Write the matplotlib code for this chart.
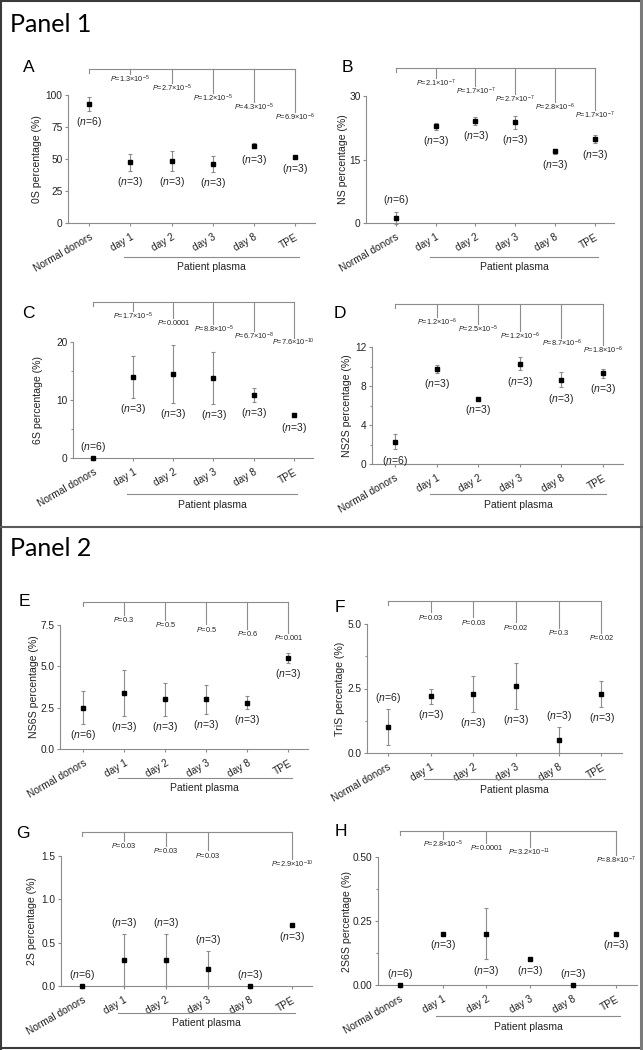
import matplotlib
matplotlib.use('Agg')
import matplotlib.pyplot as plt
from matplotlib.lines import Line2D
from matplotlib.ticker import AutoMinorLocator, FormatStrFormatter
import matplotlib.transforms as mtransforms

plt.rcParams['font.family'] = ['Liberation Sans', 'DejaVu Sans']
plt.rcParams['mathtext.fontset'] = 'custom'
plt.rcParams['mathtext.rm'] = 'Liberation Sans'
plt.rcParams['mathtext.it'] = 'Liberation Sans:italic'

# groups and sample sizes
groups = ["Normal donors", "day 1", "day 2", "day 3", "day 8", "TPE"]
n_counts = [6, 3, 3, 3, 3, 3]

# Panel 1
os_mean = [93, 47.3, 48.6, 46, 60.3, 51.4]
os_err = [5.5, 6.4, 8, 6.2, 2, 0.8]
os_p = ["1.3e-5", "2.7e-5", "1.2e-5", "4.3e-5", "6.9e-6"]

ns_mean = [1.2, 22.8, 24.1, 23.8, 16.9, 19.8]
ns_err = [1.5, 0.8, 1.0, 1.5, 0.5, 1.0]
ns_p = ["2.1e-7", "1.7e-7", "2.7e-7", "2.8e-6", "1.7e-7"]

s6_mean = [0, 14.0, 14.5, 13.8, 10.9, 7.4]
s6_err = [0, 3.6, 5.0, 4.5, 1.2, 0.3]
s6_p = ["1.7e-5", "0.0001", "8.8e-5", "6.7e-8", "7.6e-10"]

ns2s_mean = [2.3, 9.75, 6.7, 10.3, 8.65, 9.3]
ns2s_err = [0.8, 0.4, 0, 0.7, 0.8, 0.45]
ns2s_p = ["1.2e-6", "2.5e-5", "1.2e-6", "8.7e-6", "1.8e-6"]

# Panel 2
ns6s_mean = [2.5, 3.4, 3.0, 3.0, 2.8, 5.5]
ns6s_err = [1.0, 1.4, 1.0, 0.9, 0.4, 0.3]
ns6s_p = ["0.3", "0.5", "0.5", "0.6", "0.001"]

tris_mean = [1.0, 2.2, 2.3, 2.6, 0.5, 2.3]
tris_err = [0.7, 0.3, 0.7, 0.9, 0.5, 0.5]
tris_p = ["0.03", "0.03", "0.02", "0.3", "0.02"]

s2_mean = [0, 0.3, 0.3, 0.2, 0, 0.7]
s2_err = [0, 0.3, 0.3, 0.2, 0, 0]
s2_p = ["0.03", "0.03", "0.03", None, "2.9e-10"]

s2s6_mean = [0, 0.2, 0.2, 0.1, 0, 0.2]
s2s6_err = [0, 0, 0.1, 0, 0, 0]
s2s6_p = ["2.8e-5", "0.0001", "3.2e-11", None, "8.8e-7"]

W, H = 643, 1050
GRAY = '#8c8c8c'

panels = [
    dict(letter='A', ylabel='0S percentage (%)', mean=os_mean, err=os_err, p=os_p,
         yticks=[0, 25, 50, 75, 100], fmt='%d', minor=False,
         rect=(68, 315, 223, 95), xleft=-0.51, bracket=69, pbase=10, pstep=9.5,
         side='bbbbbb', ylab_dx=-31, letter_xy=(29, 67), pp=(34, 44)),
    dict(letter='B', ylabel='NS percentage (%)', mean=ns_mean, err=ns_err, p=ns_p,
         yticks=[0, 15, 30], fmt='%d', minor=False,
         rect=(366, 614, 223, 96), xleft=-0.75, bracket=68, pbase=15, pstep=8,
         side='abbbbb', ylab_dx=-23, letter_xy=(347, 68), pp=(34, 44)),
    dict(letter='C', ylabel='6S percentage (%)', mean=s6_mean, err=s6_err, p=s6_p,
         yticks=[0, 10, 20], fmt='%d', minor=True,
         rect=(73, 313, 458, 342), xleft=-0.5, bracket=302, pbase=14, pstep=6.7,
         side='abbbbb', ylab_dx=-35, letter_xy=(28, 313), pp=(36, 47)),
    dict(letter='D', ylabel='NS2S percentage (%)', mean=ns2s_mean, err=ns2s_err, p=ns2s_p,
         yticks=[0, 4, 8, 12], fmt='%d', minor=True,
         rect=(372, 623, 464, 347), xleft=-0.55, bracket=304, pbase=18, pstep=7,
         side='bbbbbb', ylab_dx=-25, letter_xy=(340, 313), pp=(30, 41)),
    dict(letter='E', ylabel='NS6S percentage (%)', mean=ns6s_mean, err=ns6s_err, p=ns6s_p,
         yticks=[0, 2.5, 5.0, 7.5], fmt='%.1f', minor=False,
         rect=(60, 308, 749, 625), xleft=-0.56, bracket=602, pbase=18, pstep=4.5,
         side='bbbbbb', ylab_dx=-26, letter_xy=(24, 601), pp=(29, 39)),
    dict(letter='F', ylabel='TriS percentage (%)', mean=tris_mean, err=tris_err, p=tris_p,
         yticks=[0, 2.5, 5.0], fmt='%.1f', minor=True,
         rect=(367, 622, 753, 624), xleft=-0.49, bracket=601, pbase=16, pstep=5.2,
         side='abbbab', ylab_dx=-27, letter_xy=(340, 607), pp=(26, 37)),
    dict(letter='G', ylabel='2S percentage (%)', mean=s2_mean, err=s2_err, p=s2_p,
         yticks=[0, 0.5, 1.0, 1.5], fmt='%.1f', minor=False,
         rect=(61, 312, 986, 856), xleft=-0.5, bracket=832, pbase=14, pstep=4.5,
         side='aaaaab', ylab_dx=-29, letter_xy=(23, 834), pp=(27, 37)),
    dict(letter='H', ylabel='2S6S percentage (%)', mean=s2s6_mean, err=s2s6_err, p=s2s6_p,
         yticks=[0, 0.25, 0.50], fmt='%.2f', minor=True,
         rect=(378, 637, 985, 857), xleft=-0.5, bracket=831, pbase=13, pstep=4,
         side='abbbab', ylab_dx=-31, letter_xy=(341, 831), pp=(31, 42)),
]


def p_text(s):
    if 'e' in s:
        m, e = s.split('e')
        return r'$P$=' + m + '×10$^{' + str(int(e)) + '}$'
    return r'$P$=' + s


fig = plt.figure(figsize=(W / 100, H / 100), dpi=100)

for cfg in panels:
    l, r, b, t = cfg['rect']
    ax = fig.add_axes([l / W, 1 - b / H, (r - l) / W, (b - t) / H])
    hpx = b - t
    wpx = r - l
    x = list(range(len(groups)))

    ax.errorbar(x, cfg['mean'], yerr=cfg['err'], fmt='s', color='black', ms=2.8,
                ecolor=GRAY, elinewidth=0.8, capsize=1.6, capthick=0.8,
                clip_on=False, zorder=3)

    ax.set_xlim(cfg['xleft'], 5.48)
    ax.set_ylim(cfg['yticks'][0], cfg['yticks'][-1])
    ax.set_yticks(cfg['yticks'])
    ax.yaxis.set_major_formatter(FormatStrFormatter(cfg['fmt']))
    if cfg['minor']:
        ax.yaxis.set_minor_locator(AutoMinorLocator(2))
    ax.set_xticks(x)
    ax.set_xticklabels(groups, rotation=30, ha='right', va='top',
                       rotation_mode='anchor')
    for s in ['top', 'right']:
        ax.spines[s].set_visible(False)
    for s in ['left', 'bottom']:
        ax.spines[s].set_color(GRAY)
        ax.spines[s].set_linewidth(0.8)
    ax.tick_params(axis='both', which='major', direction='out', length=2.5,
                   width=0.8, color=GRAY, labelsize=7.3, labelcolor='#222222', pad=1.5)
    ax.tick_params(axis='y', which='minor', direction='out', length=1.5,
                   width=0.8, color=GRAY)
    ax.tick_params(axis='x', pad=4)
    ax.patch.set_visible(False)

    # n labels
    for i in x:
        m = cfg['mean'][i]
        e = cfg['err'][i]
        if cfg['side'][i] == 'a':
            ax.annotate('($n$=%d)' % n_counts[i], (i, m + e), xytext=(0, 3),
                        textcoords='offset points', ha='center', va='bottom',
                        fontsize=7.5, color='#222222', annotation_clip=False)
        else:
            ax.annotate('($n$=%d)' % n_counts[i], (i, max(m - e, 0)), xytext=(0, -3),
                        textcoords='offset points', ha='center', va='top',
                        fontsize=7.5, color='#222222', annotation_clip=False)

    # significance bracket above the plot
    trans = mtransforms.blended_transform_factory(ax.transData, ax.transAxes)

    def fy(ypx):
        return 1 + (t - ypx) / hpx

    yb = cfg['bracket']
    ax.add_line(Line2D([0, 5], [fy(yb), fy(yb)], transform=trans, color=GRAY,
                       lw=0.8, clip_on=False))
    ax.add_line(Line2D([0, 0], [fy(yb), fy(yb + 4)], transform=trans, color=GRAY,
                       lw=0.8, clip_on=False))
    for k, pv in enumerate(cfg['p']):
        if pv is None:
            continue
        xi = k + 1
        yl = yb + cfg['pbase'] + cfg['pstep'] * k
        ax.add_line(Line2D([xi, xi], [fy(yb), fy(yl - 5)], transform=trans,
                           color=GRAY, lw=0.8, clip_on=False))
        ax.text(xi, fy(yl), p_text(pv), transform=trans, ha='center', va='center',
                fontsize=5.3, color='#222222')

    # Patient plasma group line
    ax.add_line(Line2D([0.85, 5.08], [-cfg['pp'][0] / hpx] * 2, transform=trans,
                       color=GRAY, lw=0.8, clip_on=False))
    ax.text((0.85 + 5.08) / 2, -cfg['pp'][1] / hpx, 'Patient plasma', transform=trans,
            ha='center', va='center', fontsize=7.5, color='#222222')

    ax.text(cfg['ylab_dx'] / wpx, 0.5, cfg['ylabel'], transform=ax.transAxes,
            rotation=90, ha='center', va='center', fontsize=7.6, color='#222222')

    lx, ly = cfg['letter_xy']
    fig.text(lx / W, 1 - ly / H, cfg['letter'], ha='center', va='center',
             fontsize=12.5, color='black')

# panel titles
fig.text(10 / W, 1 - 25 / H, 'Panel 1', ha='left', va='center', fontsize=18,
         family=['Lato', 'DejaVu Sans'])
fig.text(10 / W, 1 - 549 / H, 'Panel 2', ha='left', va='center', fontsize=18,
         family=['Lato', 'DejaVu Sans'])

# frame and separator
def fline(x0, y0, x1, y1, color, lw):
    fig.add_artist(Line2D([x0 / W, x1 / W], [1 - y0 / H, 1 - y1 / H],
                          transform=fig.transFigure, color=color, lw=lw))

fline(0, 1, 643, 1, '#3a3a3a', 1.5)
fline(1, 0, 1, 1050, '#3a3a3a', 1.5)
fline(0, 1048, 643, 1048, '#3a3a3a', 1.5)
fline(641, 0, 641, 1050, '#7a7a7a', 2.2)
fline(0, 527, 643, 527, '#5a5a5a', 1.5)

fig.savefig('out.png', dpi=100)
